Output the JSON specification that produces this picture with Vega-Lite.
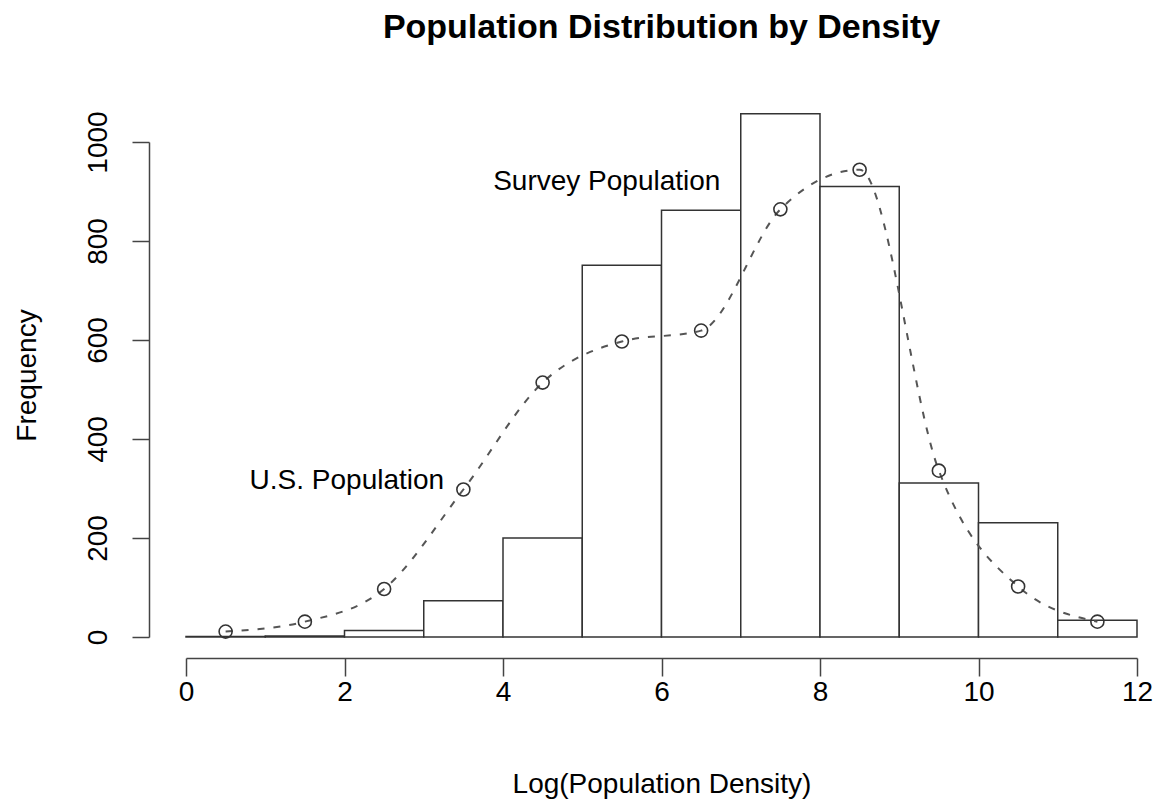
{
  "$schema": "https://vega.github.io/schema/vega-lite/v6.json",
  "width": 951,
  "height": 495,
  "autosize": {"type": "none"},
  "padding": {"left": 186, "top": 142, "right": 23, "bottom": 168},
  "background": "white",
  "title": {
    "text": "Population Distribution by Density",
    "font": "Liberation Sans",
    "fontSize": 34,
    "fontWeight": "bold",
    "color": "#000000",
    "anchor": "middle",
    "offset": 66
  },
  "config": {
    "view": {"stroke": null},
    "font": "Liberation Sans"
  },
  "datasets": {
    "hist": [
      {"bin_start": 0, "bin_end": 1, "count": 1},
      {"bin_start": 1, "bin_end": 2, "count": 2},
      {"bin_start": 2, "bin_end": 3, "count": 13},
      {"bin_start": 3, "bin_end": 4, "count": 73},
      {"bin_start": 4, "bin_end": 5, "count": 200},
      {"bin_start": 5, "bin_end": 6, "count": 751},
      {"bin_start": 6, "bin_end": 7, "count": 862},
      {"bin_start": 7, "bin_end": 8, "count": 1057},
      {"bin_start": 8, "bin_end": 9, "count": 910},
      {"bin_start": 9, "bin_end": 10, "count": 311},
      {"bin_start": 10, "bin_end": 11, "count": 231},
      {"bin_start": 11, "bin_end": 12, "count": 34}
    ],
    "us": [
      {"mid": 0.5, "freq": 11},
      {"mid": 1.5, "freq": 31},
      {"mid": 2.5, "freq": 97},
      {"mid": 3.5, "freq": 298},
      {"mid": 4.5, "freq": 514},
      {"mid": 5.5, "freq": 597},
      {"mid": 6.5, "freq": 619},
      {"mid": 7.5, "freq": 864},
      {"mid": 8.5, "freq": 944},
      {"mid": 9.5, "freq": 336},
      {"mid": 10.5, "freq": 102},
      {"mid": 11.5, "freq": 31}
    ],
    "labels": [
      {"lx": 5.31, "ly": 919, "label": "Survey Population"},
      {"lx": 2.03, "ly": 315, "label": "U.S. Population"}
    ]
  },
  "layer": [
    {
      "data": {"name": "hist"},
      "mark": {"type": "rect", "fill": "white", "stroke": "#333333", "strokeWidth": 1.5},
      "encoding": {
        "x": {
          "field": "bin_start",
          "type": "quantitative",
          "title": "Log(Population Density)",
          "scale": {"domain": [0, 12], "nice": false, "zero": false},
          "axis": {
            "values": [0, 2, 4, 6, 8, 10, 12],
            "format": "d",
            "offset": 21,
            "grid": false,
            "labelFlush": false,
            "labelOverlap": false,
            "domainColor": "#444444",
            "domainWidth": 1.5,
            "tickColor": "#444444",
            "tickWidth": 1.5,
            "tickSize": 18,
            "labelFontSize": 28,
            "labelColor": "#000000",
            "labelPadding": 2,
            "labelFont": "Liberation Sans",
            "titleFont": "Liberation Sans",
            "titleFontSize": 28,
            "titleFontWeight": "normal",
            "titleColor": "#000000",
            "titlePadding": 64
          }
        },
        "x2": {"field": "bin_end"},
        "y": {
          "field": "count",
          "type": "quantitative",
          "title": "Frequency",
          "scale": {"domain": [0, 1000], "nice": false, "zero": true},
          "axis": {
            "values": [0, 200, 400, 600, 800, 1000],
            "format": "d",
            "offset": 37,
            "grid": false,
            "labelFlush": false,
            "labelOverlap": false,
            "domainColor": "#444444",
            "domainWidth": 1.5,
            "tickColor": "#444444",
            "tickWidth": 1.5,
            "tickSize": 17,
            "labelFontSize": 28,
            "labelColor": "#000000",
            "labelAngle": 270,
            "labelAlign": "center",
            "labelBaseline": "bottom",
            "labelPadding": 20,
            "labelFont": "Liberation Sans",
            "titleFont": "Liberation Sans",
            "titleFontSize": 28,
            "titleFontWeight": "normal",
            "titleColor": "#000000",
            "titlePadding": 43,
            "titleY": 233
          }
        },
        "y2": {"datum": 0}
      }
    },
    {
      "data": {"name": "us"},
      "mark": {"type": "line", "interpolate": "monotone", "stroke": "#555555", "strokeWidth": 2, "strokeDash": [7, 9]},
      "encoding": {
        "x": {"field": "mid", "type": "quantitative", "title": "Log(Population Density)"},
        "y": {"field": "freq", "type": "quantitative", "title": "Frequency"}
      }
    },
    {
      "data": {"name": "us"},
      "mark": {"type": "point", "shape": "circle", "filled": false, "stroke": "#333333", "strokeWidth": 1.6, "size": 170, "opacity": 1},
      "encoding": {
        "x": {"field": "mid", "type": "quantitative", "title": "Log(Population Density)"},
        "y": {"field": "freq", "type": "quantitative", "title": "Frequency"}
      }
    },
    {
      "data": {"name": "labels"},
      "mark": {"type": "text", "font": "Liberation Sans", "fontSize": 28, "color": "#000000", "align": "center", "baseline": "middle"},
      "encoding": {
        "x": {"field": "lx", "type": "quantitative", "title": "Log(Population Density)"},
        "y": {"field": "ly", "type": "quantitative", "title": "Frequency"},
        "text": {"field": "label"}
      }
    }
  ]
}
